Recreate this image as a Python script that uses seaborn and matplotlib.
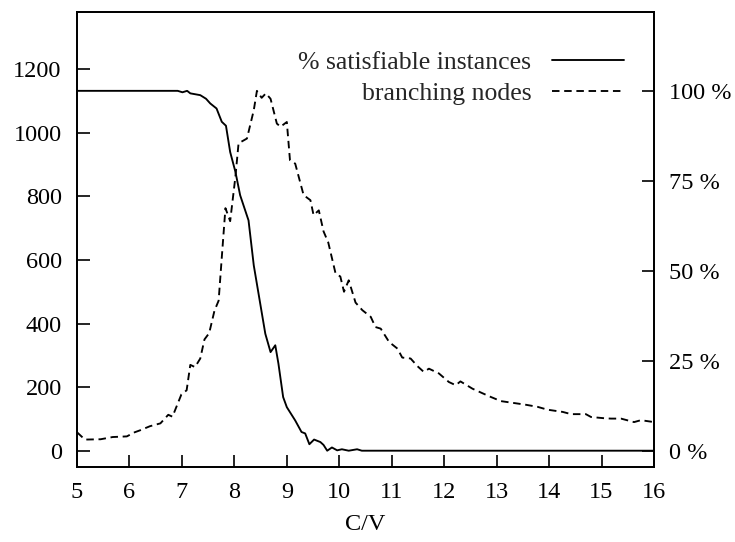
import matplotlib
matplotlib.use("Agg")
import matplotlib.pyplot as plt
import seaborn as sns
import pandas as pd

# ---- data ----
nodes_x = [5.00, 5.15, 5.45, 5.68, 5.95, 6.10, 6.20, 6.39, 6.59, 6.74, 6.82, 6.99, 7.09, 7.16, 7.25,
           7.35, 7.43, 7.52, 7.62, 7.70, 7.77, 7.83, 7.92, 8.02, 8.08, 8.24, 8.37, 8.43, 8.52, 8.60,
           8.69, 8.81, 8.88, 9.00, 9.06, 9.16, 9.32, 9.45, 9.51, 9.61, 9.70, 9.79, 9.93, 10.02, 10.09,
           10.18, 10.31, 10.44, 10.60, 10.69, 10.79, 10.95, 11.11, 11.20, 11.36, 11.49, 11.61, 11.71,
           11.90, 12.09, 12.22, 12.31, 12.54, 12.74, 12.89, 13.08, 13.33, 13.54, 13.78, 13.97, 14.26,
           14.42, 14.70, 14.80, 15.06, 15.18, 15.37, 15.62, 15.75, 16.00]
nodes_y = [58, 35, 36, 43, 45, 58, 64, 77, 86, 113, 107, 177, 190, 270, 263,
           290, 350, 370, 440, 472, 630, 763, 722, 862, 967, 982, 1071, 1132, 1110, 1124,
           1107, 1029, 1019, 1034, 914, 903, 804, 788, 741, 756, 690, 655, 557, 548, 500,
           536, 466, 442, 421, 389, 384, 342, 321, 293, 290, 266, 248, 258,
           243, 216, 206, 218, 195, 180, 169, 156, 150, 145, 138, 129, 122,
           115, 115, 106, 102, 101, 101, 90, 96, 90]

sat_x = [5.00, 6.92, 7.01, 7.10, 7.16, 7.35, 7.46, 7.54, 7.66, 7.76, 7.84, 7.92, 8.02, 8.11, 8.27,
         8.37, 8.59, 8.69, 8.78, 8.84, 8.93, 9.00, 9.16, 9.28, 9.35, 9.43, 9.52, 9.64, 9.70, 9.77,
         9.86, 9.96, 10.05, 10.18, 10.34, 10.43, 16.00]
sat_pct = [100, 100, 99.6, 100, 99.3, 98.8, 97.8, 96.5, 95.1, 91.4, 90.3, 83.0, 77.5, 71.0, 64.0,
           51.5, 32.5, 27.4, 29.3, 24.2, 14.9, 12.1, 8.4, 5.2, 4.8, 1.8, 3.1, 2.4, 1.6, 0,
           0.9, 0.1, 0.4, 0, 0.4, 0, 0]

x_ticks = [5, 6, 7, 8, 9, 10, 11, 12, 13, 14, 15, 16]
left_ticks = [0, 200, 400, 600, 800, 1000, 1200]
right_ticks = [0, 25, 50, 75, 100]
right_labels = ["0 %", "25 %", "50 %", "75 %", "100 %"]
label_sat = "% satisfiable instances"
label_nodes = "branching nodes"
x_label = "C/V"

nodes_df = pd.DataFrame({"cv": nodes_x, "nodes": nodes_y})
sat_df = pd.DataFrame({"cv": sat_x, "pct": sat_pct})

sns.set_theme(style="ticks")
plt.rcParams["font.family"] = ["Liberation Serif", "DejaVu Serif"]
FS = 17.5
LFS = 18.5

fig = plt.figure(figsize=(7.35, 5.42), dpi=100)
ax = fig.add_axes([77 / 735, 1 - 466.6 / 542, (654 - 77) / 735, (466.6 - 12) / 542])

sns.lineplot(data=nodes_df, x="cv", y="nodes", ax=ax, color="black", lw=1.35,
             linestyle=(0, (4, 2.5)), legend=False)
ax2 = ax.twinx()
sns.lineplot(data=sat_df, x="cv", y="pct", ax=ax2, color="black", lw=1.35, legend=False)

ylo, yhi = -50, 1380
scale100 = 1132.0
ax.set_xlim(5, 16)
ax.set_ylim(ylo, yhi)
ax2.set_ylim(ylo / scale100 * 100, yhi / scale100 * 100)

ax.set_xticks(x_ticks)
ax.set_xticklabels([str(t) for t in x_ticks])
ax.set_yticks(left_ticks)
ax.set_yticklabels([str(t) for t in left_ticks])
ax2.set_yticks(right_ticks)
ax2.set_yticklabels(right_labels)

ax.tick_params(axis="both", direction="in", length=9, width=1.2, labelsize=FS, colors="black")
ax.tick_params(axis="x", pad=11, top=False, bottom=True)
ax.tick_params(axis="y", pad=11, left=True, right=False)
ax2.tick_params(axis="y", direction="in", length=9, width=1.2, labelsize=FS, pad=11,
                left=False, right=True, colors="black")

ax.set_xlabel(x_label, fontsize=FS, labelpad=8, color="black")
ax.set_ylabel("")
ax2.set_ylabel("")

for a in (ax, ax2):
    for s in a.spines.values():
        s.set_linewidth(1.3)
        s.set_color("black")

handles = [ax2.lines[0], ax.lines[0]]
leg = ax2.legend(handles=handles, labels=[label_sat, label_nodes], frameon=False,
                 markerfirst=False, loc="upper right",
                 bbox_to_anchor=(624 / 735, 1 - 51 / 542), bbox_transform=fig.transFigure,
                 borderpad=0, borderaxespad=0, handlelength=2.8, handletextpad=0.8,
                 labelspacing=0.32, fontsize=LFS)

fig.savefig("out.png", dpi=100)
